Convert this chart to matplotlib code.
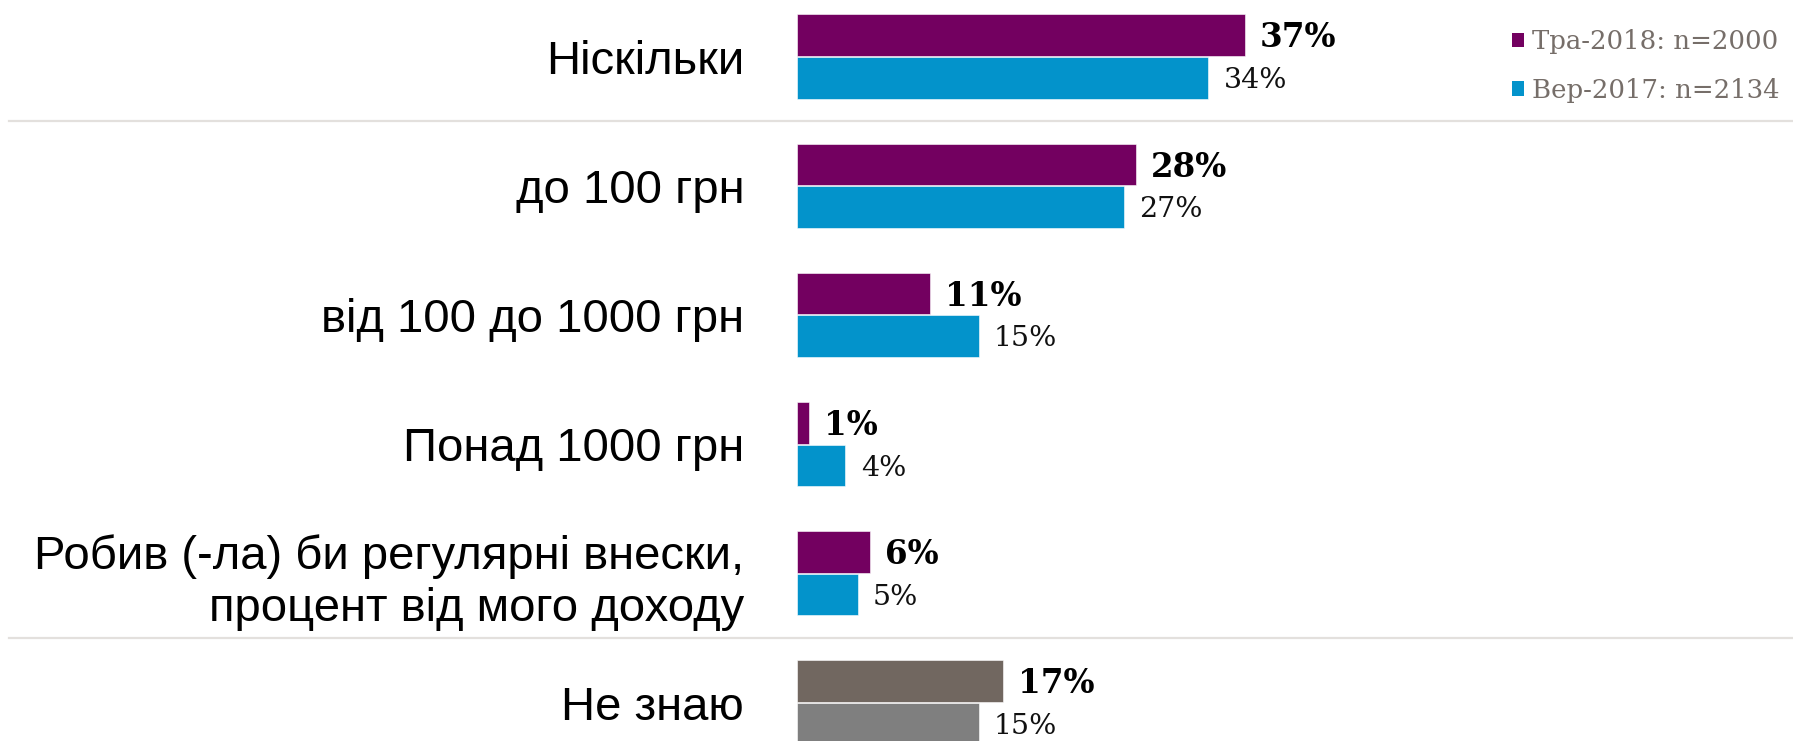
import matplotlib
matplotlib.use("Agg")
import matplotlib.pyplot as plt
import matplotlib.transforms as mtransforms
from matplotlib.patches import Patch

categories = ["Ніскільки", "до 100 грн", "від 100 до 1000 грн", "Понад 1000 грн",
              "Робив (-ла) би регулярні внески,\nпроцент від мого доходу", "Не знаю"]
tra2018 = [37, 28, 11, 1, 6, 17]
ver2017 = [34, 27, 15, 4, 5, 15]
series_labels = ["Тра-2018: n=2000", "Вер-2017: n=2134"]

PURPLE = "#730060"
BLUE = "#0393cb"
GRAY_DARK = "#716760"
GRAY_LIGHT = "#7f7f7f"
colors_2018 = [PURPLE] * 5 + [GRAY_DARK]
colors_2017 = [BLUE] * 5 + [GRAY_LIGHT]

W, H = 1793, 741
fig = plt.figure(figsize=(W / 100, H / 100), dpi=100)
left_px = 797
ax = fig.add_axes([left_px / W, 0, 1 - left_px / W, 1])

px_per_pct = 12.1
group_px = 129.2
top_center_px = 56.5
ax.set_xlim(0, (W - left_px) / px_per_pct)
ax.set_ylim((H - top_center_px) / group_px, -top_center_px / group_px)

ys = list(range(len(categories)))
off = 0.165
bh = 0.322
ax.barh([y - off for y in ys], tra2018, height=bh, color=colors_2018,
        edgecolor="white", linewidth=0.4)
ax.barh([y + off for y in ys], ver2017, height=bh, color=colors_2017,
        edgecolor="white", linewidth=0.4)

serif = ["DejaVu Serif"]
for y, v in zip(ys, tra2018):
    ax.annotate(f"{v}%", xy=(v, y - off), xytext=(11, -2), textcoords="offset points",
                va="center", ha="left", fontsize=23.5, fontweight="bold",
                family=serif, color="black", annotation_clip=False)
for y, v in zip(ys, ver2017):
    ax.annotate(f"{v}%", xy=(v, y + off), xytext=(11, -2), textcoords="offset points",
                va="center", ha="left", fontsize=20.5, family=serif,
                color="#111111", annotation_clip=False)

ax.set_yticks(ys)
ax.set_yticklabels(categories, fontsize=34, family=["Liberation Sans"], linespacing=1.25)
shift = mtransforms.ScaledTranslation(0, -2 / 72, fig.dpi_scale_trans)
for lbl in ax.get_yticklabels():
    lbl.set_transform(lbl.get_transform() + shift)
ax.tick_params(axis="y", length=0, pad=38)
ax.set_xticks([])
for s in ax.spines.values():
    s.set_visible(False)

# separators
sep_xmin = (9 - left_px) / (W - left_px)
for yy in (0.5, 4.5):
    ax.axhline(yy, xmin=sep_xmin, xmax=1, color="#e3e0dd", linewidth=1.6, clip_on=False, zorder=0)

handles = [Patch(facecolor=PURPLE, edgecolor="none"), Patch(facecolor=BLUE, edgecolor="none")]
fig.legend(handles, series_labels, loc="center left",
           bbox_to_anchor=(1512 / W, 1 - 66 / H), frameon=False,
           prop={"family": serif, "size": 18.7}, labelcolor="#766e69",
           handlelength=0.48, handleheight=0.48, handletextpad=0.28,
           labelspacing=0.92, borderpad=0, borderaxespad=0)

fig.savefig("out.png", dpi=100)
